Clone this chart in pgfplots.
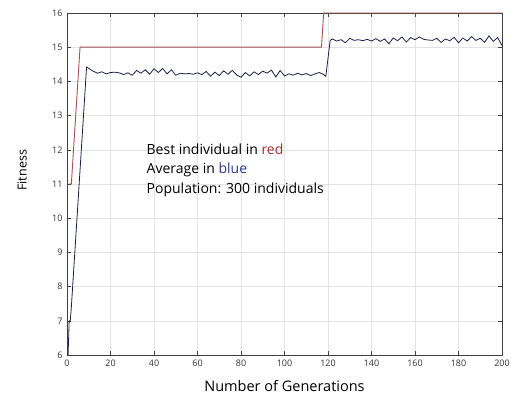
\documentclass[border=0pt]{standalone}
\usepackage{fontspec}
\setmainfont{Open Sans}
\usepackage{xcolor}
\usepackage{pgfplots}
\pgfplotsset{compat=1.18}

\definecolor{bestred}{HTML}{A4504E}
\definecolor{avgblue}{HTML}{1C1F45}
\definecolor{txtred}{HTML}{9E2F33}
\definecolor{txtblue}{HTML}{2B3A86}

\begin{document}
\begin{tikzpicture}
\path[use as bounding box] (-67pt,-50pt) rectangle (444pt,355pt);
\begin{axis}[
  at={(0,0)}, anchor=south west,
  scale only axis,
  width=435pt, height=342pt,
  xmin=0, xmax=200,
  ymin=6, ymax=16,
  xtick={0,20,...,200},
  ytick={6,7,...,16},
  grid=major,
  major grid style={gray!22, line width=0.5pt},
  axis line style={black!75, line width=0.8pt},
  tick style={black!75, line width=0.6pt},
  major tick length=4pt,
  tick align=inside,
  /pgf/number format/assume math mode=true,
  tick label style={font=\fontsize{9}{10}\selectfont, text=black!80},
  xticklabel style={yshift=-1pt},
  yticklabel style={xshift=-1pt},
  xlabel={Number of Generations},
  ylabel={Fitness},
  xlabel style={font=\fontsize{14.5}{16}\selectfont, at={(axis description cs:0.5,-0.09)}, anchor=center},
  ylabel style={font=\fontsize{12.5}{14}\selectfont, at={(axis description cs:-0.103,0.54)}, anchor=center},
  clip=false,
]
\addplot[bestred, line width=0.9pt] coordinates {
  (1,11) (2,11) (6,15) (117,15) (118,16) (200,16)
};
\addplot[avgblue, line width=0.8pt] coordinates {
  (0.5,6) (1,7) (1.5,7) (2,7.4) (9,14.42)
  (10,14.38) (12,14.30) (14,14.24) (16,14.28) (18,14.22) (20,14.26)
  (22,14.27) (24,14.25) (26,14.20) (28,14.25) (30,14.18) (32,14.32)
  (34,14.24) (36,14.34) (38,14.21) (40,14.37) (42,14.26) (44,14.38)
  (46,14.22) (48,14.34) (50,14.18) (52,14.24) (54,14.22) (56,14.23)
  (58,14.21) (60,14.25) (62,14.20) (64,14.29) (66,14.15) (68,14.27)
  (70,14.17) (72,14.31) (74,14.21) (76,14.32) (78,14.19) (80,14.12)
  (82,14.26) (84,14.16) (86,14.28) (88,14.20) (90,14.30) (92,14.24)
  (94,14.33) (96,14.13) (98,14.32) (100,14.16) (102,14.22) (104,14.18)
  (106,14.24) (108,14.19) (110,14.23) (112,14.17) (114,14.22) (116,14.26)
  (118,14.20) (119,14.15) (121,15.20) (122,15.24)
  (124,15.18) (126,15.22) (128,15.13) (130,15.26) (132,15.20) (134,15.22)
  (136,15.19) (138,15.23) (140,15.18) (142,15.25) (144,15.17) (146,15.24)
  (148,15.10) (150,15.27) (152,15.19) (154,15.30) (156,15.15) (158,15.28)
  (160,15.22) (162,15.30) (164,15.23) (166,15.21) (168,15.20) (170,15.26)
  (172,15.14) (174,15.24) (176,15.19) (178,15.29) (180,15.13) (182,15.27)
  (184,15.18) (186,15.31) (188,15.20) (190,15.26) (192,15.14) (194,15.33)
  (196,15.17) (198,15.28) (200,15.05)
};
\node[anchor=west, align=left, font=\fontsize{14}{19.5}\selectfont, text=black]
  at (axis cs:35,11.41)
  {Best individual in \textcolor{txtred}{red}\\
   Average in \textcolor{txtblue}{blue}\\
   Population: 300 individuals};
\end{axis}
\end{tikzpicture}
\end{document}
